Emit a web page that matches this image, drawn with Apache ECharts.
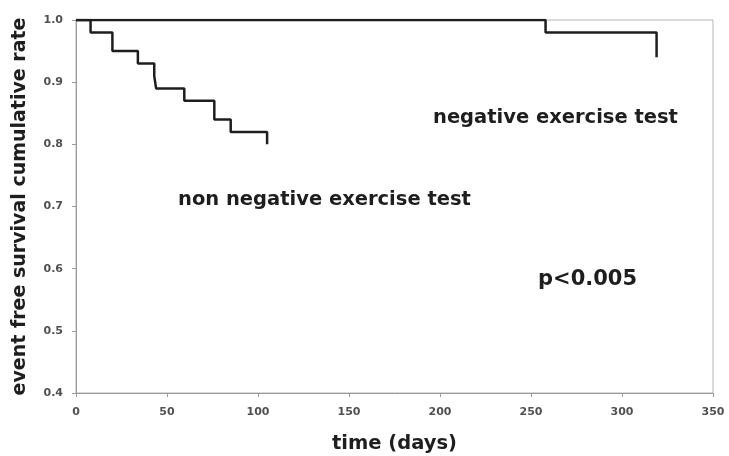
<!DOCTYPE html>
<html>
<head>
<meta charset="utf-8">
<script src="https://cdn.jsdelivr.net/npm/echarts@6/dist/echarts.min.js"></script>
<style>html,body{margin:0;padding:0;background:#fff}#c{width:729px;height:456px}</style>
</head>
<body>
<div id="c"></div>
<script>
// Kaplan-Meier curves: [time (days), cumulative survival]
var nonNegativeTimes = [0, 8, 20, 34, 43, 44, 59.5, 76, 85, 105];
var nonNegativeRates = [1.0, 0.98, 0.95, 0.93, 0.91, 0.89, 0.87, 0.84, 0.82, 0.80];
var negativeTimes = [0, 258, 319];
var negativeRates = [1.0, 0.98, 0.94];
var xTicks = [0, 50, 100, 150, 200, 250, 300, 350];
var yTicks = [0.4, 0.5, 0.6, 0.7, 0.8, 0.9, 1.0];
var seriesNames = ['non negative exercise test', 'negative exercise test'];
var pValueText = 'p<0.005';

function pairs(t, v) { return t.map(function (x, i) { return [x, v[i]]; }); }

var chart = echarts.init(document.getElementById('c'));
var FONT = '"DejaVu Sans", sans-serif';
chart.setOption({
  backgroundColor: '#fff',
  animation: false,
  grid: { left: 76, right: 16, top: 20, bottom: 63, containLabel: false, outerBoundsMode: 'none',
    show: true, borderColor: '#b5b5b5', borderWidth: 1 },
  xAxis: {
    type: 'value', min: xTicks[0], max: xTicks[xTicks.length - 1], interval: 50,
    name: 'time (days)', nameLocation: 'middle', nameGap: 41,
    nameTextStyle: { fontFamily: FONT, fontWeight: 'bold', fontSize: 19.5, color: '#1e1e1e' },
    axisLine: { lineStyle: { color: '#9a9a9a', width: 1 } },
    axisTick: { show: true, length: 4, inside: false, lineStyle: { color: '#9a9a9a' } },
    axisLabel: { fontFamily: FONT, fontSize: 11, fontWeight: 'bold', color: '#505050', margin: 14 },
    splitLine: { show: false }
  },
  yAxis: {
    type: 'value', min: yTicks[0], max: yTicks[yTicks.length - 1], interval: 0.1,
    name: 'event free survival cumulative rate', nameLocation: 'middle', nameGap: 46, nameRotate: 90,
    nameTextStyle: { fontFamily: FONT, fontWeight: 'bold', fontSize: 19, color: '#1e1e1e' },
    axisLine: { show: true, lineStyle: { color: '#9a9a9a', width: 1 } },
    axisTick: { show: true, length: 4, lineStyle: { color: '#9a9a9a' } },
    axisLabel: { fontFamily: FONT, fontSize: 11, fontWeight: 'bold', color: '#505050', margin: 13,
      formatter: function (v) { return v.toFixed(1); } },
    splitLine: { show: false }
  },
  series: [
    { name: seriesNames[0], type: 'line', step: 'end', symbol: 'none',
      data: pairs(nonNegativeTimes, nonNegativeRates),
      lineStyle: { color: '#1e1e1e', width: 2.5 } },
    { name: seriesNames[1], type: 'line', step: 'end', symbol: 'none',
      data: pairs(negativeTimes, negativeRates),
      lineStyle: { color: '#1e1e1e', width: 2.5 } }
  ],
  graphic: [
    { type: 'text', left: 433, top: 108, style: { text: seriesNames[1], font: 'bold 19.5px ' + FONT, fill: '#1e1e1e' } },
    { type: 'text', left: 178, top: 190, style: { text: seriesNames[0], font: 'bold 19.5px ' + FONT, fill: '#1e1e1e' } },
    { type: 'text', left: 538, top: 269, style: { text: pValueText, font: 'bold 21px ' + FONT, fill: '#1e1e1e' } }
  ]
});
</script>
</body>
</html>
